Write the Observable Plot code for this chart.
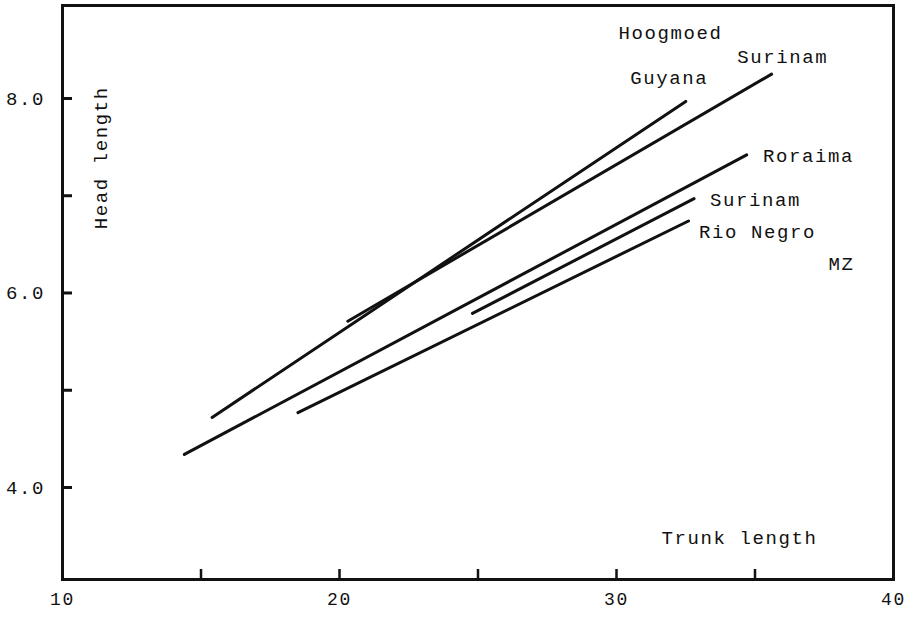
<!DOCTYPE html>
<html><head><meta charset="utf-8">
<script src="https://cdn.jsdelivr.net/npm/d3@7"></script>
<script src="https://cdn.jsdelivr.net/npm/@observablehq/plot@0.6"></script>
<style>body{margin:0;background:#fff}#chart svg{display:block}</style>
</head><body><div id="chart"></div>
<script>
// Regression lines: head length vs trunk length
const series = ["Guyana", "Surinam (upper)", "Roraima", "Surinam (lower)", "Rio Negro"];
const startX = [15.4, 20.3, 14.4, 24.8, 18.5];
const startY = [4.72, 5.71, 4.34, 5.79, 4.77];
const endX = [32.5, 35.6, 34.7, 32.8, 32.6];
const endY = [7.97, 8.25, 7.42, 6.97, 6.74];

// Annotations
const labelText = ["Hoogmoed", "Surinam", "Guyana", "Roraima", "Surinam", "Rio Negro", "MZ"];
const labelX = [31.95, 36.0, 31.9, 36.93, 35.02, 35.09, 38.12];
const labelY = [8.67, 8.43, 8.21, 7.41, 6.96, 6.63, 6.30];

// Axes
const xTickValues = [15, 20, 25, 30, 35];
const xTickLabels = ["10", "20", "30", "40"];
const xTickLabelValues = [10, 20, 30, 40];
const yTickValues = [4, 5, 6, 7, 8];
const yTickLabels = ["4.0", "6.0", "8.0"];
const yTickLabelValues = [4, 6, 8];
const xTitle = "Trunk length";
const yTitle = "Head length";
const xTitlePos = [34.44, 3.48];
const yTitlePosY = 7.39;

const lines = series.map((s, i) => ({s, x1: startX[i], y1: startY[i], x2: endX[i], y2: endY[i]}));
const labels = labelText.map((t, i) => ({t, x: labelX[i], y: labelY[i]}));
const xl = xTickLabels.map((t, i) => ({t, v: xTickLabelValues[i]}));
const yl = yTickLabels.map((t, i) => ({t, v: yTickLabelValues[i]}));

const font = "'Courier New', 'Liberation Mono', monospace";
const W = 916, H = 619, ML = 62, MR = 23, MT = 5, MB = 40, TICK = 10;

const chart = Plot.plot({
  width: W,
  height: H,
  marginLeft: ML,
  marginRight: MR,
  marginTop: MT,
  marginBottom: MB,
  style: {fontFamily: font, fontSize: "19px", letterSpacing: "1.6px", background: "#fff", color: "#111"},
  x: {domain: [10, 40], axis: null},
  y: {domain: [3.054, 8.956], axis: null},
  marks: [
    Plot.frame({stroke: "#111", strokeWidth: 3}),
    Plot.tickY(yTickValues, {y: d => d, stroke: "#111", strokeWidth: 3, insetRight: W - ML - MR - TICK}),
    Plot.tickX(xTickValues, {x: d => d, stroke: "#111", strokeWidth: 2.5, insetTop: H - MT - MB - TICK}),
    Plot.link(lines, {x1: "x1", y1: "y1", x2: "x2", y2: "y2", stroke: "#111", strokeWidth: 3, strokeLinecap: "round"}),
    Plot.text(labels, {x: "x", y: "y", text: "t", fill: "#111"}),
    Plot.text(yl, {y: "v", text: "t", frameAnchor: "left", textAnchor: "middle", dx: -37, fill: "#111"}),
    Plot.text(xl, {x: "v", text: "t", frameAnchor: "bottom", dy: 25, fill: "#111", fontSize: 18}),
    Plot.text([xTitle], {x: xTitlePos[0], y: xTitlePos[1], text: d => d, fill: "#111"}),
    Plot.text([yTitle], {y: yTitlePosY, text: d => d, frameAnchor: "left", textAnchor: "middle", dx: 38, rotate: -90, fill: "#111"})
  ]
});
document.getElementById("chart").appendChild(chart);
</script>
</body></html>
